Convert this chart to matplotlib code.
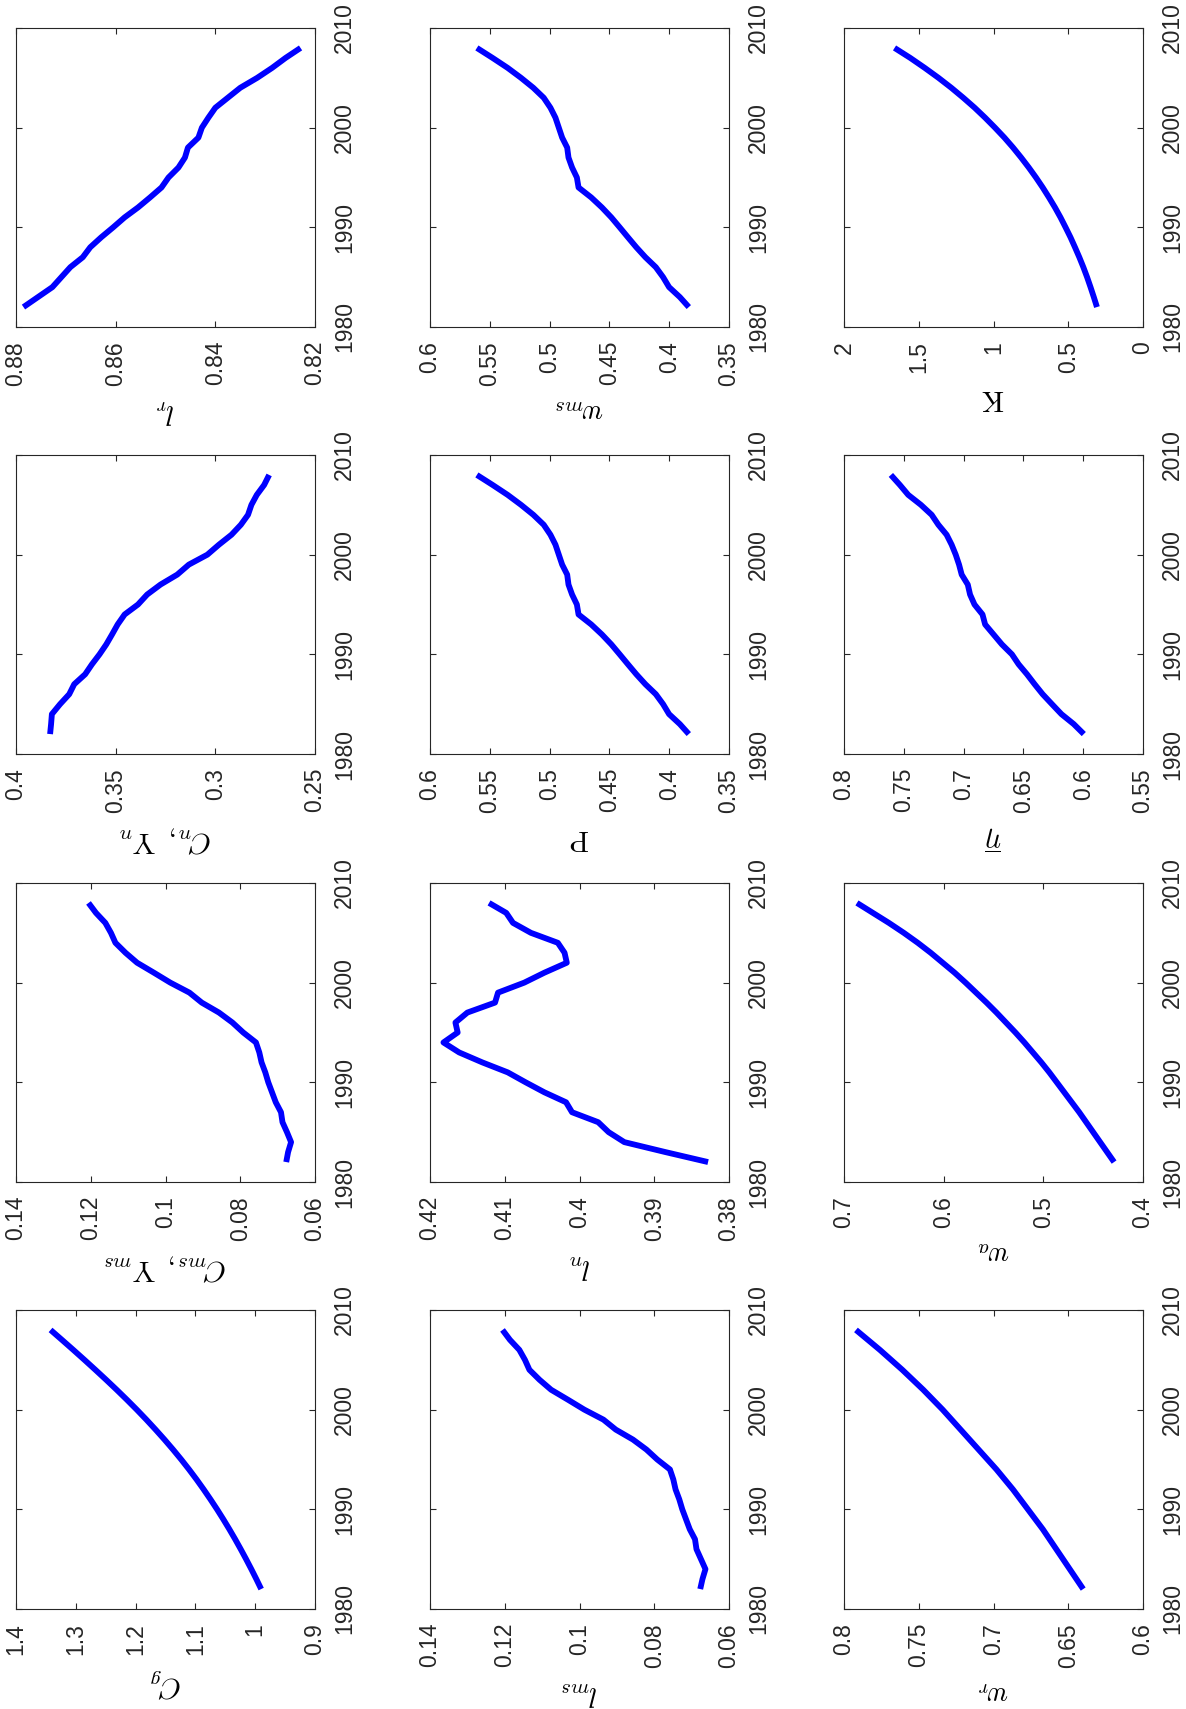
import numpy as np
import matplotlib.pyplot as plt
from matplotlib.ticker import FuncFormatter

plt.rcParams['font.family'] = ['Liberation Sans', 'DejaVu Sans']
plt.rcParams['mathtext.fontset'] = 'cm'

years = np.arange(1982, 2009)

C_g = [0.990, 0.9981, 1.0065, 1.0152, 1.0242, 1.0335, 1.0432, 1.0533, 1.0638, 1.0748,
       1.0862, 1.0981, 1.1106, 1.1237, 1.1374, 1.1517, 1.1666, 1.1820, 1.1980, 1.2146,
       1.2317, 1.2493, 1.2673, 1.2856, 1.3042, 1.3231, 1.3422]
C_ms = [0.0677, 0.0672, 0.0664, 0.0675, 0.0687, 0.0691, 0.0705, 0.0715, 0.0725, 0.0733,
        0.0743, 0.0749, 0.0758, 0.0792, 0.0821, 0.0857, 0.0903, 0.0936, 0.0987, 0.1031,
        0.1076, 0.1107, 0.1134, 0.1146, 0.1161, 0.1186, 0.1206]
C_n = [0.3829, 0.3824, 0.3820, 0.3779, 0.3733, 0.3708, 0.3653, 0.3619, 0.3581, 0.3547,
       0.3518, 0.3490, 0.3455, 0.3388, 0.3342, 0.3275, 0.3191, 0.3133, 0.3040, 0.2982,
       0.2919, 0.2872, 0.2836, 0.2819, 0.2792, 0.2755, 0.2730]
l_r = [0.8785, 0.8756, 0.8727, 0.8709, 0.8691, 0.8666, 0.8651, 0.8629, 0.8605, 0.8582,
       0.8555, 0.8531, 0.8508, 0.8494, 0.8474, 0.8461, 0.8455, 0.8434, 0.8427, 0.8414,
       0.8400, 0.8375, 0.8350, 0.8316, 0.8286, 0.8259, 0.8229]
l_ms = [0.0677, 0.0671, 0.0663, 0.0675, 0.0687, 0.0691, 0.0705, 0.0715, 0.0725, 0.0733,
        0.0743, 0.0749, 0.0758, 0.0792, 0.0821, 0.0857, 0.0903, 0.0936, 0.0987, 0.1031,
        0.1076, 0.1107, 0.1134, 0.1146, 0.1161, 0.1186, 0.1206]
l_n = [0.3828, 0.3885, 0.3940, 0.3961, 0.3975, 0.4010, 0.4018, 0.4047, 0.4072, 0.4096,
       0.4130, 0.4161, 0.4182, 0.4163, 0.4166, 0.4150, 0.4113, 0.4109, 0.4074, 0.4047,
       0.4017, 0.4020, 0.4029, 0.4065, 0.4089, 0.4098, 0.4121]
P = [0.3836, 0.3911, 0.4001, 0.4051, 0.4112, 0.4199, 0.4275, 0.4345, 0.4414, 0.4484,
     0.4563, 0.4652, 0.4758, 0.4772, 0.4812, 0.4842, 0.4853, 0.4895, 0.4923, 0.4951,
     0.4993, 0.5049, 0.5136, 0.5239, 0.5351, 0.5477, 0.5608]
w_ms = [0.3836, 0.3911, 0.4001, 0.4051, 0.4112, 0.4199, 0.4275, 0.4345, 0.4414, 0.4484,
        0.4563, 0.4652, 0.4758, 0.4772, 0.4812, 0.4842, 0.4853, 0.4895, 0.4923, 0.4951,
        0.4993, 0.5049, 0.5136, 0.5239, 0.5351, 0.5477, 0.5608]
w_r = [0.640, 0.6445, 0.649, 0.6535, 0.658, 0.6625, 0.667, 0.672, 0.677, 0.682,
       0.687, 0.6925, 0.698, 0.704, 0.710, 0.716, 0.722, 0.728, 0.734, 0.7405,
       0.747, 0.754, 0.761, 0.7685, 0.776, 0.784, 0.792]
w_a = [0.429, 0.436, 0.443, 0.450, 0.457, 0.464, 0.4715, 0.479, 0.4865, 0.494,
       0.502, 0.5105, 0.519, 0.528, 0.5375, 0.547, 0.557, 0.5675, 0.578, 0.589,
       0.601, 0.613, 0.626, 0.640, 0.655, 0.671, 0.687]
eta = [0.5995, 0.6079, 0.6182, 0.6261, 0.6339, 0.6406, 0.6470, 0.6540, 0.6596, 0.6680,
       0.6750, 0.6820, 0.6842, 0.6909, 0.6946, 0.6965, 0.7016, 0.7038, 0.7066, 0.7100,
       0.7142, 0.7211, 0.7267, 0.7357, 0.7463, 0.7533, 0.7608]
K = [0.308, 0.329, 0.351, 0.374, 0.399, 0.426, 0.455, 0.485, 0.518, 0.552,
     0.589, 0.629, 0.671, 0.716, 0.764, 0.815, 0.869, 0.927, 0.990, 1.056,
     1.126, 1.202, 1.282, 1.368, 1.460, 1.557, 1.662]

# (series, lower, upper, step, label) ; page is turned, so grid is column by column
panels = [
    [(l_r, 0.82, 0.88, 0.02, r'$l_r$'),
     (C_n, 0.25, 0.40, 0.05, r'$C_n,\ \mathrm{Y}_n$'),
     (C_ms, 0.06, 0.14, 0.02, r'$C_{ms},\ \mathrm{Y}_{ms}$'),
     (C_g, 0.9, 1.4, 0.1, r'$C_g$')],
    [(w_ms, 0.35, 0.60, 0.05, r'$w_{ms}$'),
     (P, 0.35, 0.60, 0.05, r'$\mathrm{P}$'),
     (l_n, 0.38, 0.42, 0.01, r'$l_n$'),
     (l_ms, 0.06, 0.14, 0.02, r'$l_{ms}$')],
    [(K, 0.0, 2.0, 0.5, r'$\mathrm{K}$'),
     (eta, 0.55, 0.80, 0.05, r'$\overline{\eta}$'),
     (w_a, 0.4, 0.7, 0.1, r'$w_a$'),
     (w_r, 0.6, 0.8, 0.05, r'$w_r$')],
]

W, H = 1186, 1709
fig = plt.figure(figsize=(W / 100, H / 100), dpi=100)
lefts = [16, 430, 844]
tops = [28, 455, 883, 1310]
size = 299

fmt = FuncFormatter(lambda v, p: f'{round(v, 6):g}')

for c, col in enumerate(panels):
    for r, (vals, lo, hi, step, lab) in enumerate(col):
        ax = fig.add_axes([lefts[c] / W, 1 - (tops[r] + size) / H, size / W, size / H])
        ax.plot(vals, years, color=(0, 0, 1), lw=4.2, solid_capstyle='butt')
        ax.set_xlim(hi, lo)
        ax.set_ylim(1980, 2010)
        ax.set_xticks(np.arange(lo, hi + step / 2, step))
        ax.set_yticks([1980, 1990, 2000, 2010])
        ax.xaxis.set_major_formatter(fmt)
        ax.tick_params(direction='in', length=4, width=0.8, color='#262626',
                       top=True, right=True, labelleft=False, labelright=True,
                       labelsize=16.5, labelcolor='#262626')
        ax.tick_params(axis='x', labelrotation=90, pad=10)
        ax.tick_params(axis='y', labelrotation=90, pad=13)
        for t in ax.get_yticklabels():
            t.set_va('center')
        for sp in ax.spines.values():
            sp.set_color('#262626')
            sp.set_linewidth(0.8)
        ax.set_xlabel(lab, rotation=180, fontsize=21, labelpad=8)

fig.savefig('out.png', dpi=100)
